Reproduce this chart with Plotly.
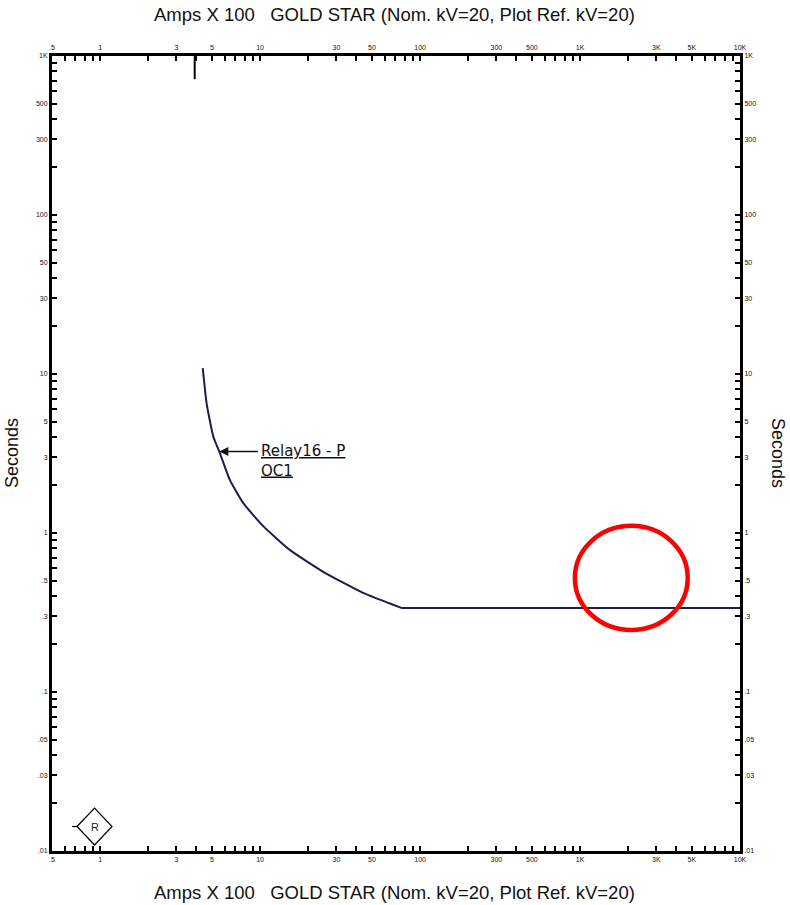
import numpy as np
import plotly.graph_objects as go

# ---- data ----
curve_current = [4.38, 4.63, 5.10, 5.56, 6.48, 7.85, 10.5, 15.4, 24.8, 44.0, 64.8, 77.0]
curve_time = [10.9, 6.54, 4.03, 3.25, 2.15, 1.54, 1.10, 0.78, 0.57, 0.42, 0.36, 0.337]
definite_current = [77.0, 10000]
definite_time = [0.337, 0.337]
pickup_current = [3.9, 3.9]
pickup_time = [1000, 715]
label_index = 3  # curve point the label arrow points to
label_text = "<u>Relay16 - P</u><br><u>OC1</u>"

x_tick_vals = [0.5, 1, 3, 5, 10, 30, 50, 100, 300, 500, 1000, 3000, 5000, 10000]
x_tick_text = [".5", "1", "3", "5", "10", "30", "50", "100", "300", "500", "1K", "3K", "5K", "10K"]
y_tick_vals = [0.01, 0.03, 0.05, 0.1, 0.3, 0.5, 1, 3, 5, 10, 30, 50, 100, 300, 500, 1000]
y_tick_text = [".01", ".03", ".05", ".1", ".3", ".5", "1", "3", "5", "10", "30", "50", "100", "300", "500", "1K"]

x_minor = [m * 10.0 ** d for d in range(-1, 4) for m in range(1, 10)]
x_minor = [v for v in x_minor if 0.5 <= v <= 10000 and round(v, 6) not in [round(t, 6) for t in x_tick_vals]]
y_minor = [m * 10.0 ** d for d in range(-2, 3) for m in range(1, 10)]
y_minor = [v for v in y_minor if 0.01 <= v <= 1000 and round(v, 6) not in [round(t, 6) for t in y_tick_vals]]

title_text = "Amps X 100\u00a0\u00a0\u00a0GOLD STAR (Nom. kV=20, Plot Ref. kV=20)"

CURVE_COLOR = "#1c1c4c"
FONT = "Liberation Sans, Arial, sans-serif"

fig = go.Figure()
fig.add_trace(go.Scatter(x=curve_current, y=curve_time, mode="lines",
                         line=dict(color=CURVE_COLOR, width=2, shape="spline", smoothing=0.5),
                         hoverinfo="skip", showlegend=False))
fig.add_trace(go.Scatter(x=definite_current, y=definite_time, mode="lines",
                         line=dict(color=CURVE_COLOR, width=2),
                         hoverinfo="skip", showlegend=False))
fig.add_trace(go.Scatter(x=pickup_current, y=pickup_time, mode="lines",
                         line=dict(color="black", width=2),
                         xaxis="x2", yaxis="y2", hoverinfo="skip", showlegend=False))

x_range = [np.log10(0.5), np.log10(10000)]
y_range = [np.log10(0.01), np.log10(1000)]

tickfont = dict(family=FONT, size=7, color="#111")
common_x = dict(type="log", range=x_range, showgrid=False, zeroline=False,
                showline=True, linecolor="black", linewidth=3,
                tickmode="array", tickvals=x_tick_vals, ticktext=x_tick_text,
                ticks="inside", ticklen=5, tickwidth=2, tickcolor="black",
                tickfont=tickfont,
                minor=dict(tickmode="array", tickvals=x_minor, ticks="inside",
                           ticklen=5, tickwidth=2, tickcolor="black", showgrid=False))
common_y = dict(type="log", range=y_range, showgrid=False, zeroline=False,
                showline=True, linecolor="black", linewidth=3,
                tickmode="array", tickvals=y_tick_vals, ticktext=y_tick_text,
                ticks="inside", ticklen=5, tickwidth=2, tickcolor="black",
                tickfont=tickfont,
                minor=dict(tickmode="array", tickvals=y_minor, ticks="inside",
                           ticklen=5, tickwidth=2, tickcolor="black", showgrid=False))

fig.update_layout(
    width=790, height=905,
    margin=dict(l=52, r=50, t=56, b=54),
    paper_bgcolor="white", plot_bgcolor="white",
    showlegend=False,
    xaxis=dict(**common_x, side="bottom", anchor="y"),
    xaxis2=dict(**common_x, side="top", overlaying="x", anchor="y"),
    yaxis=dict(**common_y, side="left", anchor="x"),
    yaxis2=dict(**common_y, side="right", overlaying="y", anchor="x"),
)

annotations = [
    dict(text=title_text, xref="paper", yref="paper", x=0.4985, y=1.0528,
         xanchor="center", yanchor="middle", showarrow=False,
         font=dict(family=FONT, size=18.5, color="#111")),
    dict(text=title_text, xref="paper", yref="paper", x=0.4985, y=-0.0528,
         xanchor="center", yanchor="middle", showarrow=False,
         font=dict(family=FONT, size=18.5, color="#111")),
    dict(text="Seconds", xref="paper", yref="paper", x=1.0552, y=0.5006,
         xanchor="center", yanchor="middle", showarrow=False, textangle=90,
         font=dict(family=FONT, size=18, color="#111")),
    dict(text="Seconds", xref="paper", yref="paper", x=-0.0581, y=0.5006,
         xanchor="center", yanchor="middle", showarrow=False, textangle=-90,
         font=dict(family=FONT, size=18, color="#111")),
    # arrow to the curve
    dict(text="", x=np.log10(curve_current[label_index]), y=np.log10(curve_time[label_index]),
         xref="x", yref="y", showarrow=True, ax=40, ay=0,
         arrowhead=2, arrowsize=1.2, arrowwidth=1.5, arrowcolor="#111"),
    dict(text=label_text, x=np.log10(curve_current[label_index]), y=np.log10(curve_time[label_index]),
         xref="x", yref="y", showarrow=False, xanchor="left", yanchor="top",
         xshift=40, yshift=12, align="left",
         font=dict(family="DejaVu Sans, sans-serif", size=15, color="#111")),
    # R marker
    dict(text="R", xref="paper", yref="paper", x=0.0618, y=0.0308,
         xanchor="center", yanchor="middle", showarrow=False,
         font=dict(family=FONT, size=11, color="#222")),
]
fig.update_layout(annotations=annotations)

shapes = [
    dict(type="path", xref="paper", yref="paper", xsizemode="pixel", ysizemode="pixel",
         xanchor=0.0618, yanchor=0.0308,
         path="M -17.5 0 L 0 18.5 L 17.5 0 L 0 -18.5 Z",
         line=dict(color="black", width=1.2)),
    dict(type="path", xref="paper", yref="paper", xsizemode="pixel", ysizemode="pixel",
         xanchor=0.0618, yanchor=0.0308,
         path="M -22.5 0 L -17.5 0",
         line=dict(color="black", width=1.2)),
    dict(type="circle", xref="paper", yref="paper",
         x0=0.760, x1=0.924, y0=0.278, y1=0.409,
         line=dict(color="#ff0000", width=4.5)),
]
fig.update_layout(shapes=shapes)

fig.write_html("out.html")
